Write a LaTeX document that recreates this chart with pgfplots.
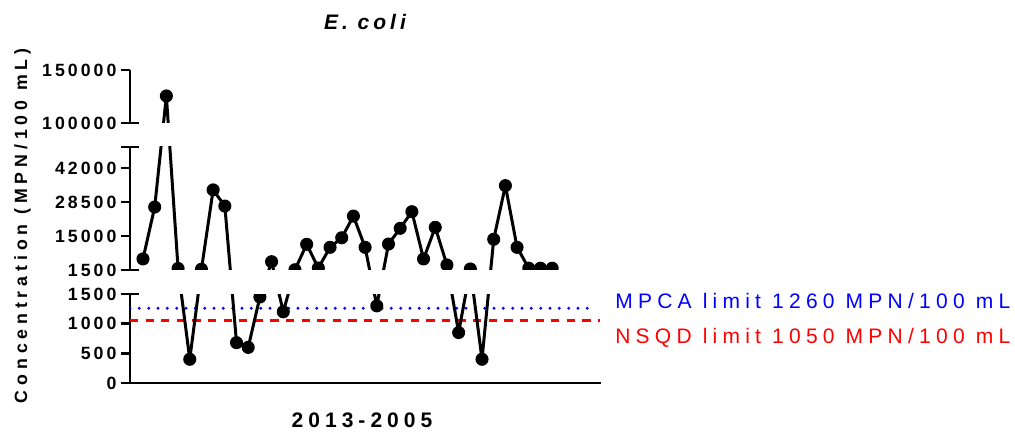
\documentclass[border=0pt]{standalone}
\usepackage{fontspec}
\setmainfont{Liberation Sans}
\newfontfamily\tickfont[LetterSpace=17]{Liberation Sans}
\newfontfamily\ylabfont[LetterSpace=27.5]{Liberation Sans}
\newfontfamily\xlabfont[LetterSpace=24]{Liberation Sans}
\newfontfamily\legfont[LetterSpace=25]{Liberation Sans}
\newfontfamily\titlefont[LetterSpace=19]{Liberation Sans}
\usepackage{pgfplots}
\usepackage{pgfplotstable}
\pgfplotsset{compat=1.18}

% E. coli, MPN/100 mL, one row per sample
\pgfplotstableread[row sep=\\]{
idx v \\
0 5900 \\ 1 26500 \\ 2 125500 \\ 3 2100 \\ 4 400 \\ 5 1800 \\
6 33300 \\ 7 26900 \\ 8 680 \\ 9 600 \\ 10 1450 \\ 11 4800 \\
12 1200 \\ 13 1600 \\ 14 11700 \\ 15 2300 \\ 16 10500 \\ 17 14300 \\
18 22900 \\ 19 10500 \\ 20 1300 \\ 21 11800 \\ 22 18050 \\ 23 24650 \\
24 5900 \\ 25 18450 \\ 26 3500 \\ 27 850 \\ 28 1900 \\ 29 400 \\
30 13700 \\ 31 35000 \\ 32 10500 \\ 33 2200 \\ 34 2200 \\ 35 2200 \\
}\ecoli

% reference limits
\pgfplotstableread[row sep=\\]{
x v \\ -1.112 1260 \\ 38.3 1260 \\
}\mpca
\pgfplotstableread[row sep=\\]{
x v \\ -1.112 1050 \\ 39.1 1050 \\
}\nsqd

% broken scale: 0-1500 | 1500-50000 | 100000-150000 stacked on one vertical axis
\newcommand\brk[1]{ifthenelse(#1<1500.5,(#1)*89/1500,ifthenelse(#1<60000,113+((#1)-1500)*34/13500,260+((#1)-100000)*53/50000))}

\pgfplotsset{
  panel/.style={
    scale only axis, anchor=south west,
    x=8.7675pt, y=0.75pt,
    xmin=-1.112, xmax=39.18,
    axis y line*=left,
    axis line style={line width=2pt, black},
    tick style={line width=2pt, black},
    major tick length=7pt,
    tick align=outside,
    xtick=\empty,
    clip marker paths=true,
    yticklabel style={font=\tickfont\bfseries\fontsize{13.3pt}{16pt}\selectfont, inner sep=0pt, xshift=-3pt},
    extra y tick style={tick align=center, major tick length=14pt},
  },
  series/.style={black, line width=2.25pt, line join=round, mark=*, mark size=4.4pt, mark options={solid, fill=black, line width=1pt}},
}

\begin{document}
\begin{tikzpicture}
\path[use as bounding box] (0,0) rectangle (761.25pt,324.75pt);

% lower panel: 0 - 1500
\begin{axis}[panel, at={(97.5pt,37.5pt)}, ymin=0, ymax=89,
  axis x line*=bottom,
  ytick={0,29.667,59.333,89}, yticklabels={0,500,1000,1500},
  extra y ticks={89}, extra y tick labels={\relax}]
\addplot[blue, line width=2.4pt, dash pattern=on 0pt off 7pt, line cap=round]
  table[x=x, y expr=\brk{\thisrow{v}}] {\mpca};
\addplot[red, line width=2.25pt, dash pattern=on 6.2pt off 5.5pt]
  table[x=x, y expr=\brk{\thisrow{v}}] {\nsqd};
\addplot[series] table[x=idx, y expr=\brk{\thisrow{v}}] {\ecoli};
\end{axis}

% middle panel: 1500 - 50000
\begin{axis}[panel, at={(97.5pt,122.25pt)}, ymin=113, ymax=236,
  axis x line=none,
  ytick={113,147,181,215}, yticklabels={1500,15000,28500,42000},
  extra y ticks={113,236}, extra y tick labels={\relax,\relax}]
\addplot[series] table[x=idx, y expr=\brk{\thisrow{v}}] {\ecoli};
\end{axis}

% upper panel: 100000 - 150000
\begin{axis}[panel, at={(97.5pt,232.5pt)}, ymin=260, ymax=313,
  axis x line=none,
  ytick={260,313}, yticklabels={100000,150000},
  extra y ticks={260}, extra y tick labels={\relax}]
\addplot[series] table[x=idx, y expr=\brk{\thisrow{v}}] {\ecoli};
\end{axis}

\node[anchor=base, font=\titlefont\bfseries\itshape\fontsize{15.75pt}{18pt}\selectfont] at (273.75pt,302.25pt) {E. coli};
\node[anchor=base, font=\xlabfont\bfseries\fontsize{15.75pt}{18pt}\selectfont] at (271.5pt,4.5pt) {2013-2005};
\node[anchor=base, rotate=90, font=\ylabfont\bfseries\fontsize{13.3pt}{16pt}\selectfont] at (20.25pt,155.4pt) {Concentration (MPN/100 mL)};
\node[anchor=base west, inner sep=0pt, blue, font=\legfont\fontsize{15.75pt}{18pt}\selectfont] at (461.25pt,93.75pt) {MPCA limit 1260 MPN/100 mL};
\node[anchor=base west, inner sep=0pt, red, font=\legfont\fontsize{15.75pt}{18pt}\selectfont] at (461.25pt,67.5pt) {NSQD limit 1050 MPN/100 mL};
\end{tikzpicture}
\end{document}
